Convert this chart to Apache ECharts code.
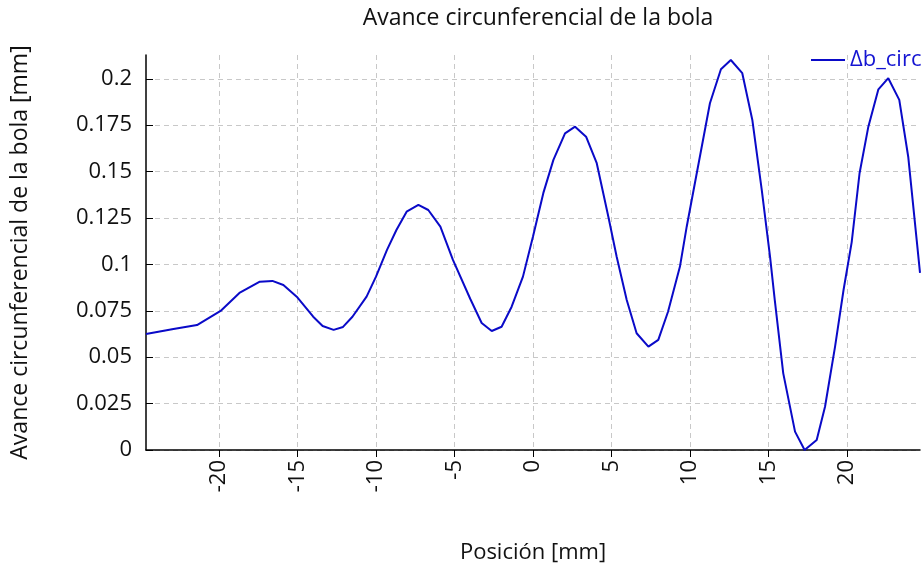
<!DOCTYPE html>
<html>
<head>
<meta charset="utf-8">
<script src="https://cdn.jsdelivr.net/npm/echarts@6/dist/echarts.min.js"></script>
<style>html,body{margin:0;padding:0;background:#fff}#c{width:924px;height:571px}</style>
</head>
<body>
<div id="c"></div>
<script>
var positions = [-24.65,-22.9,-21.4,-19.9,-18.7,-17.4,-16.6,-15.9,-15.05,-14.0,-13.4,-12.7,-12.1,-11.5,-10.6,-10.0,-9.3,-8.7,-8.05,-7.3,-6.67,-5.9,-5.1,-4.0,-3.27,-2.63,-2.0,-1.36,-0.64,0.0,0.66,1.3,2.04,2.68,3.38,4.06,4.8,5.33,5.97,6.6,7.35,7.98,8.6,9.36,9.79,10.43,11.27,11.97,12.6,13.33,13.97,14.57,15.1,15.4,15.94,16.69,17.3,18.07,18.6,19.24,19.78,20.3,20.8,21.36,22.0,22.63,23.33,23.9,24.44,24.65];
var advance = [0.0625,0.0652,0.0673,0.0749,0.0846,0.0907,0.0911,0.0889,0.0826,0.0718,0.0668,0.0647,0.0663,0.0718,0.0826,0.0934,0.1078,0.1185,0.1284,0.1320,0.1293,0.1203,0.1024,0.0815,0.0684,0.0641,0.0664,0.0772,0.0934,0.1150,0.1385,0.1563,0.1706,0.1742,0.1688,0.1545,0.1257,0.1041,0.0808,0.0629,0.0557,0.0593,0.0745,0.0988,0.1203,0.1491,0.1868,0.2051,0.2101,0.2030,0.1778,0.1401,0.1041,0.0808,0.0413,0.0099,0.0000,0.0054,0.0233,0.0557,0.0862,0.1120,0.1491,0.1742,0.1943,0.2003,0.1886,0.1580,0.1131,0.0954];
var xTicks = [-20,-15,-10,-5,0,5,10,15,20];
var yTicks = [0,0.025,0.05,0.075,0.1,0.125,0.15,0.175,0.2];
var seriesName = 'Δb_circ';
var titleText = 'Avance circunferencial de la bola';
var xName = 'Posición [mm]';
var yName = 'Avance circunferencial de la bola [mm]';

var data = positions.map(function(p,i){return [p, advance[i]];});
var FONT = 'Open Sans';
var chart = echarts.init(document.getElementById('c'), null, {renderer:'canvas'});
chart.setOption({
  animation:false,
  backgroundColor:'#fff',
  title:{text:titleText,left:533,textAlign:'center',top:2,textStyle:{fontFamily:FONT,fontSize:23,fontWeight:'normal',color:'#111'}},
  legend:{left:806,top:44,icon:'rect',itemWidth:34,itemHeight:2,itemGap:6,
    textStyle:{fontFamily:FONT,fontSize:22,color:'#1414d2'},data:[seriesName]},
  grid:{left:146,right:4,top:55,bottom:121,containLabel:false,outerBoundsMode:'none'},
  xAxis:{type:'value',min:-24.65,max:24.65,
    name:xName,nameLocation:'middle',nameGap:92,nameTextStyle:{fontFamily:FONT,fontSize:22,color:'#111'},
    axisLine:{show:true,onZero:false,lineStyle:{color:'#000',width:1.5}},
    axisTick:{show:true,inside:false,length:7,customValues:xTicks,lineStyle:{color:'#000'}},
    axisLabel:{customValues:xTicks,rotate:90,margin:10,fontFamily:FONT,fontSize:22,color:'#111'},
    splitLine:{show:true,lineStyle:{color:'#c8c8c8',type:[5,4],width:1}}
  },
  yAxis:{type:'value',min:0,max:0.2128,
    name:yName,nameLocation:'middle',nameGap:114,nameTextStyle:{fontFamily:FONT,fontSize:23,color:'#111'},
    axisLine:{show:true,onZero:false,lineStyle:{color:'#000',width:1.5}},
    axisTick:{show:true,inside:true,length:7,customValues:yTicks,lineStyle:{color:'#000'}},
    axisLabel:{customValues:yTicks,margin:14,fontFamily:FONT,fontSize:22,color:'#111'},
    splitLine:{show:true,lineStyle:{color:'#c8c8c8',type:[5,4],width:1}}
  },
  series:[{name:seriesName,type:'line',data:data,symbol:'none',smooth:false,
    lineStyle:{color:'#0a0ac8',width:2},itemStyle:{color:'#0a0ac8'},clip:true}]
});
</script>
</body>
</html>
